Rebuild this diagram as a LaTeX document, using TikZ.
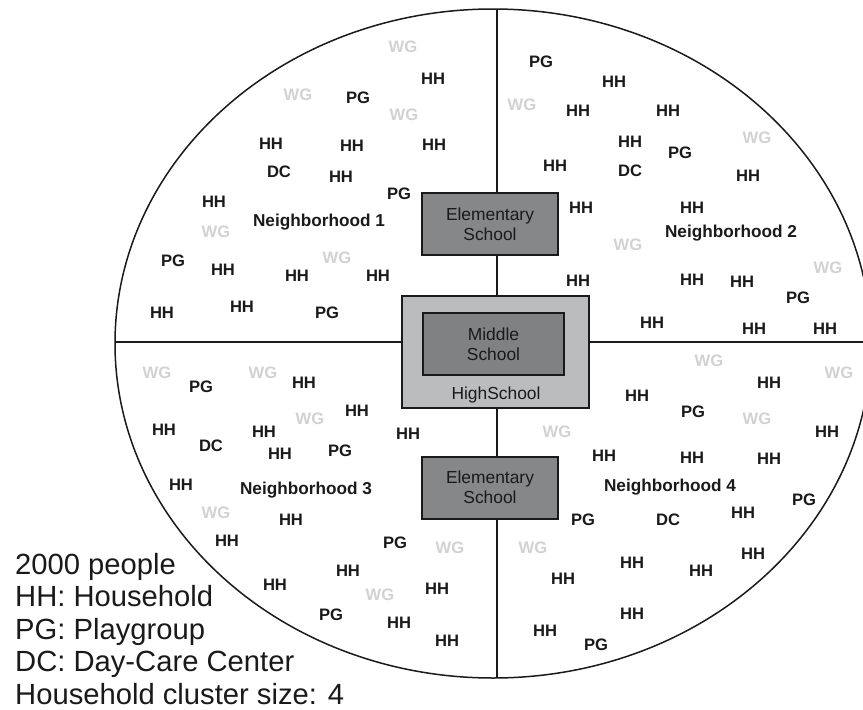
\documentclass[tikz,border=0pt]{standalone}
\usepackage{fontspec}
\setmainfont{Liberation Sans}
\definecolor{ink}{HTML}{1A1A1A}
\definecolor{wgc}{HTML}{D2D2D2}
\definecolor{boxdark}{HTML}{858789}
\definecolor{boxmid}{HTML}{7F8183}
\definecolor{boxlight}{HTML}{BABCBE}
\tikzset{
  lbl/.style={font=\fontsize{16.6}{18}\selectfont\bfseries, text=ink, inner sep=0pt, text height=12pt, text depth=0pt},
  wg/.style={lbl, text=wgc},
  nbh/.style={font=\fontsize{17.2}{19}\selectfont\bfseries, text=ink, inner sep=0pt, text height=12.3pt, text depth=0pt},
  schoolbox/.style={draw=ink, line width=2pt, inner sep=0pt, align=center, text=ink, font=\fontsize{17.4}{20}\selectfont},
  legendtxt/.style={font=\fontsize{29.2}{33}\selectfont, text=ink, inner sep=0pt, anchor=base west},
  axisline/.style={draw=ink, line width=2pt},
}
\begin{document}
\begin{tikzpicture}[x=1pt, y=-1pt]
\useasboundingbox (0,0) rectangle (863,710);
\clip (0,0) rectangle (863,710);
\fill[white] (0,0) rectangle (863,710);
% outline
\draw[ink, line width=1.5pt] (493,343.5) ellipse [x radius=378pt, y radius=334.5pt];
% axes
\coordinate (vtop) at (497,9);
\coordinate (vbot) at (497,678);
\coordinate (hleft) at (115,342);
\coordinate (hright) at (880,342);
\path[axisline] (vtop) -- (vbot);
\path[axisline] (hleft) -- (hright);
% schools
\node[schoolbox, fill=boxdark, minimum width=136pt, minimum height=62pt] (es1) at (490,224) {Elementary\\School};
\node[draw=ink, line width=2pt, fill=boxlight, minimum width=187pt, minimum height=112pt, inner sep=0pt] (hs) at (495.5,352) {};
\node[schoolbox, fill=boxmid, minimum width=141pt, minimum height=62pt] (ms) at (493.5,344) {Middle\\School};
\node[text=ink, font=\fontsize{17.4}{20}\selectfont, inner sep=0pt, text height=12.5pt, text depth=0pt] (hsl) at (496,393) {HighSchool};
\node[schoolbox, fill=boxdark, minimum width=136pt, minimum height=62pt] (es2) at (490,487.5) {Elementary\\School};
% Neighborhood 1
\node[nbh] (nb1) at (319,220) {Neighborhood 1};
\node[wg] (a1) at (403,46) {WG};
\node[lbl] (a2) at (433,78) {HH};
\node[wg] (a3) at (298,94) {WG};
\node[lbl] (a4) at (358,97) {PG};
\node[wg] (a5) at (404,114) {WG};
\node[lbl] (a6) at (271,143) {HH};
\node[lbl] (a7) at (352,145) {HH};
\node[lbl] (a8) at (434,144) {HH};
\node[lbl] (a9) at (279,171) {DC};
\node[lbl] (a10) at (341,176) {HH};
\node[lbl] (a11) at (399,193) {PG};
\node[lbl] (a12) at (214,201) {HH};
\node[wg] (a13) at (216,231) {WG};
\node[lbl] (a14) at (173,260) {PG};
\node[lbl] (a15) at (223,269) {HH};
\node[wg] (a16) at (337,257) {WG};
\node[lbl] (a17) at (297,275) {HH};
\node[lbl] (a18) at (378,275) {HH};
\node[lbl] (a19) at (162,312) {HH};
\node[lbl] (a20) at (242,306) {HH};
\node[lbl] (a21) at (327,312) {PG};
% Neighborhood 2
\node[nbh] (nb2) at (731,231) {Neighborhood 2};
\node[lbl] (b1) at (541,61) {PG};
\node[lbl] (b2) at (614,81) {HH};
\node[wg] (b3) at (522,104) {WG};
\node[lbl] (b4) at (578,110) {HH};
\node[lbl] (b5) at (668,110) {HH};
\node[lbl] (b6) at (630,141) {HH};
\node[lbl] (b7) at (680,152) {PG};
\node[wg] (b8) at (757,137) {WG};
\node[lbl] (b9) at (555,165) {HH};
\node[lbl] (b10) at (630,170) {DC};
\node[lbl] (b11) at (748,175) {HH};
\node[lbl] (b12) at (581,207) {HH};
\node[lbl] (b13) at (692,207) {HH};
\node[wg] (b14) at (628,244) {WG};
\node[wg] (b15) at (828,267) {WG};
\node[lbl] (b16) at (578,280) {HH};
\node[lbl] (b17) at (692,279) {HH};
\node[lbl] (b18) at (742,281) {HH};
\node[lbl] (b19) at (798,297) {PG};
\node[lbl] (b20) at (652,322) {HH};
\node[lbl] (b21) at (754,328) {HH};
\node[lbl] (b22) at (825,328) {HH};
% Neighborhood 3
\node[nbh] (nb3) at (306,488) {Neighborhood 3};
\node[wg] (c1) at (157,372) {WG};
\node[wg] (c2) at (263,372) {WG};
\node[lbl] (c3) at (201,386) {PG};
\node[lbl] (c4) at (304,382) {HH};
\node[lbl] (c5) at (357,410) {HH};
\node[wg] (c6) at (310,418) {WG};
\node[lbl] (c7) at (164,429) {HH};
\node[lbl] (c8) at (264,431) {HH};
\node[lbl] (c9) at (211,445) {DC};
\node[lbl] (c10) at (280,453) {HH};
\node[lbl] (c11) at (340,450) {PG};
\node[lbl] (c12) at (408,433) {HH};
\node[lbl] (c13) at (181,484) {HH};
\node[wg] (c14) at (216,512) {WG};
\node[lbl] (c15) at (291,519) {HH};
\node[lbl] (c16) at (227,540) {HH};
\node[lbl] (c17) at (395,542) {PG};
\node[wg] (c18) at (450,547) {WG};
\node[lbl] (c19) at (348,570) {HH};
\node[lbl] (c20) at (275,584) {HH};
\node[wg] (c21) at (380,594) {WG};
\node[lbl] (c22) at (437,588) {HH};
\node[lbl] (c23) at (331,614) {PG};
\node[lbl] (c24) at (399,622) {HH};
\node[lbl] (c25) at (447,640) {HH};
% Neighborhood 4
\node[nbh] (nb4) at (670,485) {Neighborhood 4};
\node[wg] (d1) at (709,360) {WG};
\node[wg] (d2) at (839,372) {WG};
\node[lbl] (d3) at (769,382) {HH};
\node[lbl] (d4) at (637,395) {HH};
\node[lbl] (d5) at (693,411) {PG};
\node[wg] (d6) at (757,418) {WG};
\node[wg] (d7) at (557,431) {WG};
\node[lbl] (d8) at (827,431) {HH};
\node[lbl] (d9) at (604,455) {HH};
\node[lbl] (d10) at (692,457) {HH};
\node[lbl] (d11) at (769,458) {HH};
\node[lbl] (d12) at (804,499) {PG};
\node[lbl] (d13) at (583,519) {PG};
\node[lbl] (d14) at (668,519) {DC};
\node[lbl] (d15) at (743,512) {HH};
\node[wg] (d16) at (533,547) {WG};
\node[lbl] (d17) at (632,562) {HH};
\node[lbl] (d18) at (753,553) {HH};
\node[lbl] (d19) at (701,570) {HH};
\node[lbl] (d20) at (563,578) {HH};
\node[lbl] (d21) at (632,613) {HH};
\node[lbl] (d22) at (545,630) {HH};
\node[lbl] (d23) at (596,644) {PG};
% legend
\node[legendtxt] (lg1) at (15,574) {2000 people};
\node[legendtxt] (lg2) at (15,606.5) {HH: Household};
\node[legendtxt] (lg3) at (15,639) {PG: Playgroup};
\node[legendtxt] (lg4) at (15,671.5) {DC: Day-Care Center};
\node[legendtxt] (lg5) at (15,704) {Household cluster size: 4};
\end{tikzpicture}
\end{document}
